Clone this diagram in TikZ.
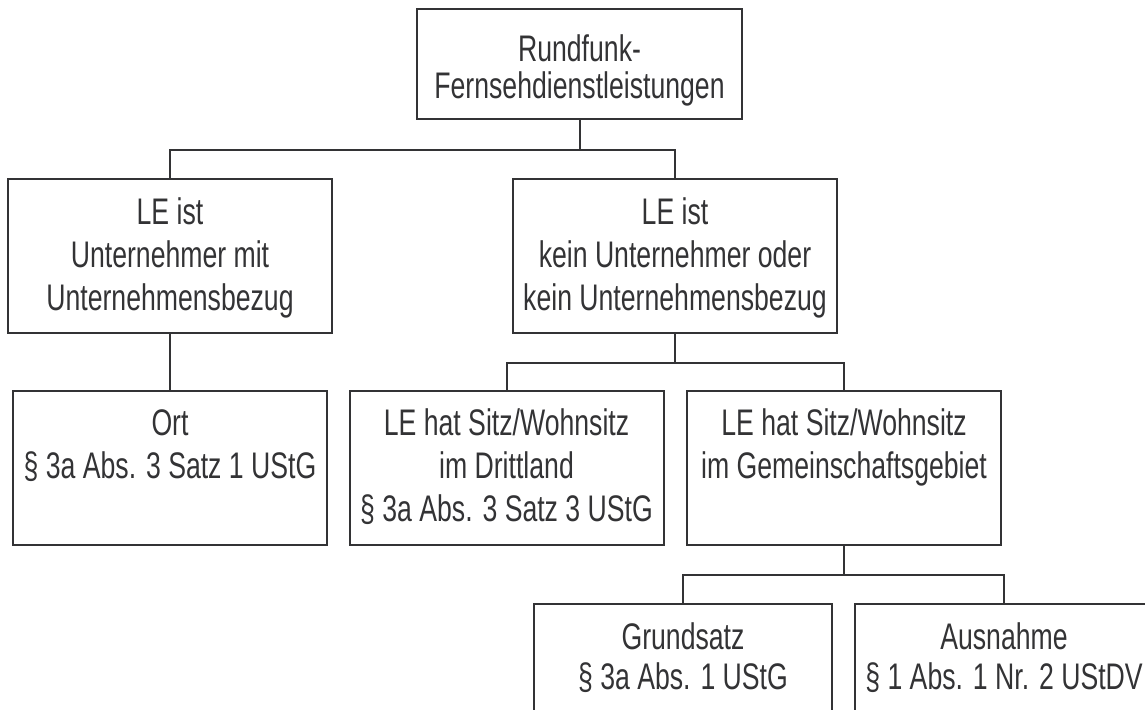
\documentclass[tikz,border=0pt]{standalone}
\usepackage{fontspec}
\setmainfont[FakeStretch=0.72]{Liberation Sans}
\usepackage{tikz}

\definecolor{ink}{HTML}{333335}

\tikzset{
  blk/.style={draw=ink, line width=1pt, text=ink, inner sep=0pt, anchor=north,
    align=flush center, font=\fontsize{18.5pt}{21.5pt}\selectfont},
  lvltop/.style={blk, text width=162.5pt, text height=26pt, text depth=29pt,
    font=\fontsize{18.5pt}{18.5pt}\selectfont},
  lvltwo/.style={blk, text width=162pt, text height=22.75pt, text depth=54.5pt},
  lvlthree/.style={blk, text width=157pt, text height=22pt, text depth=55pt},
  lvlfour/.style={blk, text width=149pt, text height=22.75pt, text depth=54.5pt,
    font=\fontsize{18.5pt}{20pt}\selectfont},
  link/.style={draw=ink, line width=1pt}
}

\begin{document}
\begin{tikzpicture}[x=0.5pt,y=-0.5pt]
\path[use as bounding box, clip] (0,0) rectangle (1145,709);

% Nodes
\node[lvltop] (rf) at (579.5,8) {Rundfunk-\\Fernsehdienstleistungen};
\node[lvltwo] (ue) at (170,177.5) {LE ist\\Unternehmer mit\\Unternehmensbezug};
\node[lvltwo] (ku) at (675,177.5) {LE ist\\kein Unternehmer oder\\kein Unternehmensbezug};
\node[lvlthree] (ort) at (170,390) {Ort\\§ 3a Abs. 3 Satz 1 UStG};
\node[lvlthree] (dl) at (506.5,390) {LE hat Sitz/Wohnsitz\\im Drittland\\§ 3a Abs. 3 Satz 3 UStG};
\node[lvlthree] (gg) at (844,390) {LE hat Sitz/Wohnsitz\\im Gemeinschaftsgebiet};
\node[lvlfour] (gs) at (683,602.5) {Grundsatz\\§ 3a Abs. 1 UStG};
\node[lvlfour] (ah) at (1004,602.5) {Ausnahme\\§ 1 Abs. 1 Nr. 2 UStDV};

% Edges
\draw[link] (rf.south) -- ++(0,29.75) -| (ue.north);
\draw[link] (rf.south) -- ++(0,29.75) -| (ku.north);
\draw[link] (ue.south) -- (ort.north);
\draw[link] (ku.south) -- ++(0,29) -| (dl.north);
\draw[link] (ku.south) -- ++(0,29) -| (gg.north);
\draw[link] (gg.south) -- ++(0,29.25) -| (gs.north);
\draw[link] (gg.south) -- ++(0,29.25) -| (ah.north);
\end{tikzpicture}
\end{document}
